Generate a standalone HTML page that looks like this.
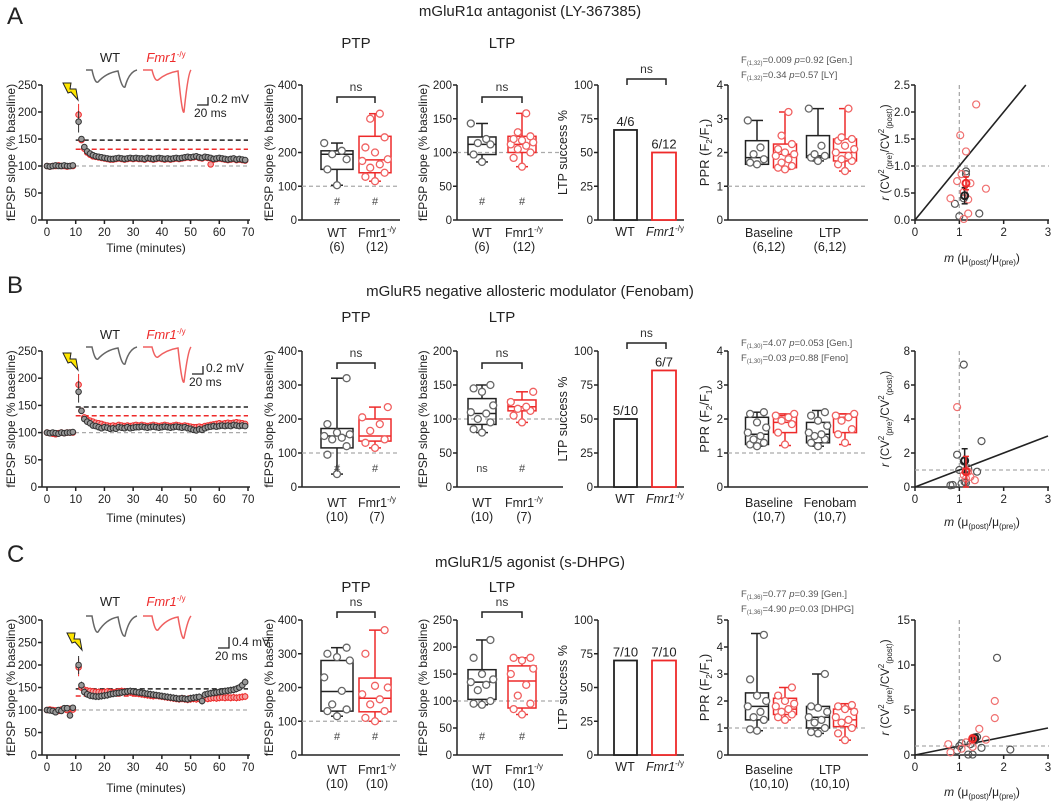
<!DOCTYPE html>
<html><head><meta charset="utf-8"><style>
html,body{margin:0;padding:0;background:#fff;}
svg{display:block;font-family:"Liberation Sans",sans-serif;}
</style></head><body>
<svg id="fig" width="1059" height="802" viewBox="0 0 1059 802" xmlns="http://www.w3.org/2000/svg"></svg>
<script>
// ===== DATA =====
const rowTitles=["mGluR1α antagonist (LY-367385)","mGluR5 negative allosteric modulator (Fenobam)","mGluR1/5 agonist (s-DHPG)"];
const tcMax=[250,250,300];
const tcWT_A=[100,99,100,101,100,100,101,100,100,101,null,182,150,135,127,123,120,118,117,116,115,114,113,113,114,115,114,113,114,115,114,115,114,114,113,115,114,113,114,115,114,113,114,113,114,115,114,115,116,117,116,117,118,116,115,117,116,115,113,114,115,114,113,112,113,114,112,113,112,111];
const tcKO_A=[100,99,100,100,101,100,100,99,100,100,null,195,148,132,125,121,118,117,116,115,114,113,112,112,113,114,113,112,113,114,113,114,113,113,112,114,113,112,113,114,113,112,113,112,113,114,113,114,115,116,115,116,117,115,114,116,115,103,112,113,114,113,112,111,112,113,111,112,111,110];
const tcWT_B=[100,99,100,99,98,100,99,100,100,101,null,175,140,125,120,117,113,112,110,108,110,109,107,108,107,110,109,108,110,108,109,110,110,111,110,109,110,111,110,109,110,111,110,109,110,111,110,109,110,108,107,105,104,106,105,108,110,111,112,111,112,113,112,113,112,114,113,112,113,112];
const tcKO_B=[100,99,98,97,99,100,99,100,100,100,null,188,140,128,124,122,120,118,117,116,114,113,112,113,112,114,113,112,113,112,113,114,113,114,113,112,113,114,113,112,113,114,113,112,113,114,113,112,113,112,111,110,110,111,110,112,113,114,115,116,117,116,117,118,117,118,119,118,117,116];
const tcWT_C=[100,99,98,95,100,98,104,104,88,105,null,200,155,140,135,132,131,130,130,131,132,133,135,136,137,138,139,140,141,142,141,140,139,138,137,136,135,134,133,132,131,130,129,128,127,126,125,126,125,124,126,127,128,129,120,134,136,137,138,139,140,141,142,143,144,145,147,150,155,162];
const tcKO_C=[100,101,100,99,98,101,102,100,103,101,null,195,150,145,143,142,141,140,140,139,140,141,140,139,140,141,142,141,140,139,138,137,136,135,134,133,132,131,132,131,130,129,128,127,126,125,124,125,124,123,124,125,124,125,124,126,125,126,127,126,127,128,127,128,127,128,127,128,129,130];
const tcWT=[tcWT_A,tcWT_B,tcWT_C];
const tcKO=[tcKO_A,tcKO_B,tcKO_C];
const thrWT=[148,147,147];
const thrKO=[131,131,131];
const ptpWTpts=[[103,150,180,195,205,228],[38,95,120,140,145,150,155,160,185,320],[115,130,135,150,190,230,280,290,300,318]];
const ptpWTstat=[[103,150,195,205,228],[38,115,150,172,320],[115,130,188,280,318]];
const ptpKOpts=[[115,128,140,155,165,175,180,200,215,245,300,315],[115,130,140,165,185,205,235],[100,110,130,150,165,180,200,205,300,370]];
const ptpKOstat=[[115,140,178,248,315],[115,135,150,200,235],[100,128,168,228,370]];
const ltpMax=[200,200,250];
const ltpWTpts=[[86,97,112,114,120,143],[80,85,95,100,108,110,120,140,145,150],[93,95,100,120,130,135,140,150,180,213]];
const ltpWTstat=[[86,97,112,123,143],[80,92,108,130,150],[93,103,135,158,213]];
const ltpKOpts=[[79,92,100,105,110,112,115,118,120,124,130,158],[95,105,112,115,118,125,140],[75,85,95,110,130,150,160,175,180,180]];
const ltpKOstat=[[79,100,112,124,158],[95,112,118,128,140],[75,87,137,165,180]];
const ltpWTmark=["#","ns","#"];
const nLabels=[["(6)","(12)"],["(10)","(7)"],["(10)","(10)"]];
const successWT=[66.7,50,70];
const successKO=[50,85.7,70];
const successWTlab=["4/6","5/10","7/10"];
const successKOlab=["6/12","6/7","7/10"];
const pprMax=[4,4,5];
const pprCat2=["LTP","Fenobam","LTP"];
const pprN=["(6,12)","(10,7)","(10,10)"];
const pprWT1pts=[[1.65,1.7,1.8,1.95,2.15,2.95],[1.2,1.25,1.3,1.4,1.5,1.6,1.75,1.9,2.15,2.2],[0.9,0.95,1.3,1.4,1.6,1.8,2.0,2.2,2.8,4.45]];
const pprWT1stat=[[1.65,1.65,1.85,2.35,2.95],[1.2,1.25,1.55,2.05,2.2],[0.9,1.3,1.8,2.3,4.5]];
const pprKO1pts=[[1.5,1.55,1.6,1.7,1.8,1.9,1.95,2.0,2.1,2.25,2.5,3.2],[1.25,1.6,1.85,1.95,2.05,2.1,2.15],[1.3,1.4,1.5,1.6,1.7,1.8,1.9,2.0,2.2,2.5]];
const pprKO1stat=[[1.5,1.55,1.95,2.25,3.2],[1.22,1.6,1.9,2.1,2.15],[1.3,1.5,1.7,2.1,2.5]];
const pprWT2pts=[[1.75,1.85,1.9,1.95,2.2,3.3],[1.2,1.3,1.4,1.5,1.55,1.6,1.8,1.95,2.1,2.2],[0.8,0.85,1.0,1.2,1.3,1.4,1.6,1.75,1.8,3.0]];
const pprWT2stat=[[1.75,1.85,1.9,2.5,3.3],[1.2,1.3,1.55,1.9,2.25],[0.8,1.0,1.4,1.8,3.0]];
const pprKO2pts=[[1.45,1.65,1.75,1.8,1.9,2.0,2.1,2.2,2.35,2.4,2.45,3.3],[1.3,1.55,1.7,1.95,2.05,2.1,2.15],[0.55,0.8,1.0,1.2,1.3,1.4,1.6,1.7,1.8,1.85]];
const pprKO2stat=[[1.45,1.75,2.0,2.4,3.3],[1.25,1.6,2.05,2.15,2.15],[0.55,1.05,1.3,1.7,1.9]];
const fStat1=["F<tspan font-size='6' dy='2'>(1,32)</tspan><tspan dy='-2'>=0.009 </tspan><tspan font-style='italic'>p</tspan>=0.92 [Gen.]","F<tspan font-size='6' dy='2'>(1,30)</tspan><tspan dy='-2'>=4.07 </tspan><tspan font-style='italic'>p</tspan>=0.053 [Gen.]","F<tspan font-size='6' dy='2'>(1,36)</tspan><tspan dy='-2'>=0.77 </tspan><tspan font-style='italic'>p</tspan>=0.39 [Gen.]"];
const fStat2=["F<tspan font-size='6' dy='2'>(1,32)</tspan><tspan dy='-2'>=0.34 </tspan><tspan font-style='italic'>p</tspan>=0.57 [LY]","F<tspan font-size='6' dy='2'>(1,30)</tspan><tspan dy='-2'>=0.03 </tspan><tspan font-style='italic'>p</tspan>=0.88 [Feno]","F<tspan font-size='6' dy='2'>(1,36)</tspan><tspan dy='-2'>=4.90 </tspan><tspan font-style='italic'>p</tspan>=0.03 [DHPG]"];
const scMax=[2.5,8,15];
const scTicks=[[0,0.5,1,1.5,2,2.5],[0,2,4,6,8],[0,5,10,15]];
const scTickLab=[["0.0","0.5","1.0","1.5","2.0","2.5"],["0","2","4","6","8"],["0","5","10","15"]];
const scWT=[[[0.9,0.3],[1.0,0.07],[1.1,0.4],[1.12,0.45],[1.15,0.85],[1.15,0.9],[1.45,0.12]],
 [[0.8,0.1],[0.85,0.12],[0.95,1.9],[1.0,1.0],[1.05,0.2],[1.1,1.5],[1.12,0.3],[1.2,1.1],[1.4,0.9],[1.5,2.7],[1.1,7.2],[1.15,0.25]],
 [[1.0,1.0],[1.05,1.3],[1.2,0.05],[1.25,1.2],[1.3,0.05],[1.4,2.0],[1.5,0.8],[2.15,0.6],[1.85,10.8],[1.35,1.6],[0.95,0.5]]];
const scKO=[[[0.8,0.4],[0.95,0.72],[1.02,1.57],[1.05,0.85],[1.1,0.52],[1.1,0.02],[1.15,1.27],[1.2,0.38],[1.2,0.12],[1.25,0.68],[1.38,2.14],[1.6,0.58]],
 [[0.95,4.7],[1.1,0.7],[1.15,0.5],[1.2,0.9],[1.25,0.6],[1.35,0.4],[1.15,1.0]],
 [[0.75,1.2],[0.8,0.3],[1.05,0.7],[1.15,1.4],[1.3,1.9],[1.35,1.9],[1.45,2.9],[1.6,1.7],[1.8,6.0],[1.8,4.1],[1.3,0.9]]];
const scMeanWT=[[1.12,0.45,0.15],[1.12,1.55,0.7],[1.35,1.9,0.3]];
const scMeanKO=[[1.15,0.68,0.12],[1.15,0.9,0.9],[1.3,1.8,0.3]];

// ===== LAYOUT =====
const NS='http://www.w3.org/2000/svg';
const svg=document.getElementById('fig');
const RED='#ee2a2a', BLK='#222', GRY='#aaa';
const TF=11.5;
function mk(tag,attrs,parent){const e=document.createElementNS(NS,tag);for(const k in attrs)e.setAttribute(k,attrs[k]);(parent||svg).appendChild(e);return e;}
function txt(g,x,y,html,size,anchor,fill){const t=mk('text',{x:x,y:y,'font-size':size,'text-anchor':anchor||'middle',fill:fill||BLK,'font-family':'Liberation Sans, sans-serif'},g);t.innerHTML=html;return t;}
function ln(g,x1,y1,x2,y2,c,w,dash){const l=mk('line',{x1:x1,y1:y1,x2:x2,y2:y2,stroke:c,'stroke-width':w||1.5},g);if(dash)l.setAttribute('stroke-dasharray',dash);return l;}
function yAxis(g,x,top,bot,max,ticks,labels){
  const a=ln(g,x,top,x,bot,BLK,1.5);
  
  
  ticks.forEach((v,i)=>{const y=bot-v/max*(bot-top);ln(g,x-4,y,x,y,BLK,1.5);
    const t=txt(g,x-5,y+4,labels[i],TF,'end',BLK);
    
    });
}
function ylab(g,x,y,html,size){const t=txt(g,0,0,html,size||12,'middle',BLK);t.setAttribute('transform','translate('+x+','+y+') rotate(-90)');return t;}
const fmr="<tspan font-style='italic'>Fmr1</tspan><tspan font-size='8' dy='-5'>-/y</tspan>";
const fmrN="Fmr1<tspan font-size='8' dy='-5'>-/y</tspan>";

function boxplot(g,cx,w,stat,pts,yf,color,name){
  const bg=mk('g',{},g);
  
  
  const [mn,q1,md,q3,mx]=stat;
  ln(bg,cx,yf(mx),cx,yf(q3),color,1.5);ln(bg,cx,yf(q1),cx,yf(mn),color,1.5);
  ln(bg,cx-6,yf(mx),cx+6,yf(mx),color,1.5);ln(bg,cx-6,yf(mn),cx+6,yf(mn),color,1.5);
  mk('rect',{x:cx-w/2,y:yf(q3),width:w,height:Math.max(0.5,yf(q1)-yf(q3)),fill:'none',stroke:color,'stroke-width':1.5},bg);
  ln(bg,cx-w/2,yf(md),cx+w/2,yf(md),color,1.5);
  const pc=color===RED?'#f06060':'#666';
  pts.forEach((v,i)=>{const off=[0,-0.3,0.3,-0.15,0.15,-0.4,0.4][i%7]*w;
    const c=mk('circle',{cx:cx+off,cy:yf(v),r:3.5,fill:'#fff',stroke:pc,'stroke-width':1.3},bg);
    
    });
}
function bracket(g,x1,x2,y,label){
  mk('path',{d:'M'+x1+','+(y+6)+'V'+y+'H'+x2+'V'+(y+6),fill:'none',stroke:BLK,'stroke-width':1.5},g);
  const t=txt(g,(x1+x2)/2,y-6,label,12,'middle','#333');
  
  
}

const tops=[85,351,620], bots=[220,487,755];
const titleY=[16,296,567], subY=[48,322,592];
const brY=[97,363,612], succBrY=[79,343,null];
const fY=[66,349,600];
const catY=[237,507,774];
const timeY=[252,522,792];
const scLabY=[262,526,796];
const letterY=[24,293,562];
const traceY=[70,347,616];
const wtLabY=[62,339,606];

for(let r=0;r<3;r++){
  const top=tops[r], bot=bots[r];
  const g=mk('g',{});
  
  
  const L=txt(g,7,letterY[r],'ABC'[r],24,'start',BLK);
  
  
  const T=txt(g,530,titleY[r],rowTitles[r],15,'middle',BLK);
  
  

  // --- time course ---
  const tg=mk('g',{},g);
  
  
  const mx=tcMax[r];
  const yT=v=>bot-v/mx*(bot-top);
  const xT=v=>47+v*(248-47)/70;
  const tk=[],tl=[];for(let v=0;v<=mx;v+=50){tk.push(v);tl.push(String(v));}
  yAxis(tg,42,top,bot,mx,tk,tl);
  ln(tg,42,bot,250,bot,BLK,1.5);
  for(let v=0;v<=70;v+=10){ln(tg,xT(v),bot,xT(v),bot+4,BLK,1.5);const t=txt(tg,xT(v),bot+16,String(v),TF,'middle');
    
    }
  ylab(tg,15,(top+bot)/2,'fEPSP slope (% baseline)',12);
  const xl=txt(tg,146,timeY[r],'Time (minutes)',12,'middle');
  
  
  ln(tg,xT(0),yT(100),xT(70),yT(100),GRY,1.3,'4,3');
  ln(tg,xT(10),yT(thrWT[r]),xT(70),yT(thrWT[r]),BLK,1.5,'5,3');
  ln(tg,xT(10),yT(thrKO[r]),xT(70),yT(thrKO[r]),RED,1.5,'5,3');
  [[tcKO[r],'#f5a0a0',RED,'ko-series'],[tcWT[r],'#999','#333','wt-series']].forEach(([arr,fill,st,nm])=>{
    const sg=mk('g',{},tg);
    
    
    arr.forEach((v,i)=>{if(v===null)return;
      const e=(i===11?20:(r===2&&i>10?8:4));
      ln(sg,xT(i),yT(v)-e/mx*135,xT(i),yT(v)+e/mx*135,st,1);
      const c=mk('circle',{cx:xT(i),cy:yT(v),r:2.8,fill:fill,stroke:st,'stroke-width':1},sg);
      
      });
  });
  const bx=r===2?67:63, by=r===0?83:(r===1?353:633);
  const bolt=mk('polygon',{points:[[bx,by],[bx+8,by],[bx+7,by+6],[bx+13,by+6],[bx+15,by+17],[bx+8,by+9],[bx+5,by+10]].map(p=>p.join(',')).join(' '),fill:'#ffe600',stroke:BLK,'stroke-width':1},tg);
  
  
  const ty=traceY[r];
  const wl=txt(tg,110,wtLabY[r],'WT',13,'middle',BLK);
  
  
  const kl=txt(tg,166,wtLabY[r],fmr,13,'middle',RED);
  
  
  const d1=r===2?[18,22]:[14,19];
  const k2=r===0?45:(r===1?38:25);
  const tw=mk('path',{d:'M86,'+ty+' H92 Q95,'+(ty+d1[0])+' 98,'+(ty+d1[0]-2)+' Q106,'+(ty+3)+' 118,'+(ty+1)+' Q122,'+(ty+d1[1])+' 125,'+(ty+d1[1]-2)+' Q129,'+(ty+2)+' 137,'+ty,fill:'none',stroke:'#666','stroke-width':1.5},tg);
  
  
  const tko=mk('path',{d:'M143,'+ty+' H152 Q155,'+(ty+d1[0]-2)+' 158,'+(ty+d1[0]-4)+' Q166,'+(ty+3)+' 178,'+(ty+1)+' Q182,'+(ty+k2)+' 184,'+(ty+k2-3)+' Q188,'+(ty+3)+' 191,'+ty,fill:'none',stroke:'#f06060','stroke-width':1.5},tg);
  
  
  const sx=r===2?229:(r===1?203:208), sy=r===2?648:(r===1?374:105), sh=r===2?11:8;
  mk('path',{d:'M'+(sx-11)+','+sy+'H'+sx+'V'+(sy-sh),fill:'none',stroke:BLK,'stroke-width':1.3},tg);
  txt(tg,sx+3,sy-2,r===2?'0.4 mV':'0.2 mV',12,'start');
  txt(tg,sx-14,sy+12,'20 ms',12,'start');

  // --- PTP ---
  const pg=mk('g',{},g);
  
  
  const yP=v=>bot-v/400*(bot-top);
  yAxis(pg,302,top,bot,400,[0,100,200,300,400],['0','100','200','300','400']);
  ln(pg,302,bot,400,bot,BLK,1.5);
  ln(pg,302,yP(100),400,yP(100),GRY,1.3,'4,3');
  ylab(pg,273,(top+bot)/2,'fEPSP slope (% baseline)',12);
  txt(pg,356,subY[r],'PTP',15,'middle');
  boxplot(pg,337,32,ptpWTstat[r],ptpWTpts[r],yP,BLK,'ptp-wt-box');
  boxplot(pg,375,32,ptpKOstat[r],ptpKOpts[r],yP,RED,'ptp-ko-box');
  bracket(pg,337,375,brY[r],'ns');
  txt(pg,337,bot-15,'#',11,'middle','#444');txt(pg,375,bot-15,'#',11,'middle','#444');
  txt(pg,337,catY[r],'WT',12.5,'middle');txt(pg,377,catY[r],fmrN,12.5,'middle');
  txt(pg,337,catY[r]+14,nLabels[r][0],12.5,'middle');txt(pg,377,catY[r]+14,nLabels[r][1],12.5,'middle');

  // --- LTP ---
  const lg=mk('g',{},g);
  
  
  const lm=ltpMax[r];
  const yL=v=>bot-v/lm*(bot-top);
  const lt=[],ll=[];for(let v=0;v<=lm;v+=50){lt.push(v);ll.push(String(v));}
  yAxis(lg,457,top,bot,lm,lt,ll);
  ln(lg,457,bot,563,bot,BLK,1.5);
  ln(lg,457,yL(100),563,yL(100),GRY,1.3,'4,3');
  ylab(lg,427,(top+bot)/2,'fEPSP slope (% baseline)',12);
  txt(lg,502,subY[r],'LTP',15,'middle');
  boxplot(lg,482,28,ltpWTstat[r],ltpWTpts[r],yL,BLK,'ltp-wt-box');
  boxplot(lg,522,28,ltpKOstat[r],ltpKOpts[r],yL,RED,'ltp-ko-box');
  bracket(lg,482,522,brY[r],'ns');
  txt(lg,482,bot-15,ltpWTmark[r],11,'middle','#444');txt(lg,522,bot-15,'#',11,'middle','#444');
  txt(lg,482,catY[r],'WT',12.5,'middle');txt(lg,524,catY[r],fmrN,12.5,'middle');
  txt(lg,482,catY[r]+14,nLabels[r][0],12.5,'middle');txt(lg,524,catY[r]+14,nLabels[r][1],12.5,'middle');

  // --- LTP success ---
  const sg=mk('g',{},g);
  
  
  const yS=v=>bot-v/100*(bot-top);
  yAxis(sg,598,top,bot,100,[0,25,50,75,100],['0','25','50','75','100']);
  ln(sg,598,bot,684,bot,BLK,1.5);
  ylab(sg,567,(top+bot)/2,'LTP success %',12.5);
  const b1=mk('rect',{x:614,y:yS(successWT[r]),width:23,height:bot-yS(successWT[r]),fill:'#fff',stroke:BLK,'stroke-width':1.8},sg);
  
  
  const b2=mk('rect',{x:652,y:yS(successKO[r]),width:24,height:bot-yS(successKO[r]),fill:'#fff',stroke:RED,'stroke-width':1.8},sg);
  
  
  txt(sg,625.5,yS(successWT[r])-4,successWTlab[r],13,'middle');
  txt(sg,664,yS(successKO[r])-4,successKOlab[r],13,'middle');
  if(succBrY[r])bracket(sg,627,666,succBrY[r],'ns');
  txt(sg,625,bot+16,'WT',12.5,'middle');txt(sg,665,bot+16,fmr,12.5,'middle');

  // --- PPR ---
  const rg=mk('g',{},g);
  
  
  const pm=pprMax[r];
  const yR=v=>bot-v/pm*(bot-top);
  const rt=[],rl=[];for(let v=0;v<=pm;v++){rt.push(v);rl.push(String(v));}
  yAxis(rg,728,top,bot,pm,rt,rl);
  ln(rg,728,bot,868,bot,BLK,1.5);
  ln(rg,728,yR(1),868,yR(1),GRY,1.3,'4,3');
  ylab(rg,709,(top+bot)/2,'PPR (F<tspan font-size="8" dy="3">2</tspan><tspan dy="-3">/F</tspan><tspan font-size="8" dy="3">1</tspan><tspan dy="-3">)</tspan>',13);
  boxplot(rg,757,23,pprWT1stat[r],pprWT1pts[r],yR,BLK,'ppr-baseline-wt-box');
  boxplot(rg,785,23,pprKO1stat[r],pprKO1pts[r],yR,RED,'ppr-baseline-ko-box');
  boxplot(rg,818,23,pprWT2stat[r],pprWT2pts[r],yR,BLK,'ppr-cond-wt-box');
  boxplot(rg,845,23,pprKO2stat[r],pprKO2pts[r],yR,RED,'ppr-cond-ko-box');
  txt(rg,769,catY[r],'Baseline',12.5,'middle');txt(rg,830,catY[r],pprCat2[r],12.5,'middle');
  txt(rg,769,catY[r]+14,pprN[r],12.5,'middle');txt(rg,830,catY[r]+14,pprN[r],12.5,'middle');
  txt(rg,741,fY[r]-3,fStat1[r],9.5,'start','#555');
  txt(rg,741,fY[r]+12,fStat2[r],9.5,'start','#555');

  // --- scatter ---
  const cg=mk('g',{},g);
  
  
  const cm=scMax[r];
  const xC=v=>915+v/3*(1048-915);
  const yC=v=>bot-v/cm*(bot-top);
  yAxis(cg,915,top,bot,cm,scTicks[r],scTickLab[r]);
  ln(cg,915,bot,1049,bot,BLK,1.5);
  [0,1,2,3].forEach(v=>{ln(cg,xC(v),bot,xC(v),bot+4,BLK,1.5);txt(cg,xC(v),bot+16,String(v),TF,'middle');});
  ln(cg,xC(1),top,xC(1),bot,GRY,1.3,'4,3');
  ln(cg,915,yC(1),1049,yC(1),GRY,1.3,'4,3');
  const xe=Math.min(3,cm);
  const idl=ln(cg,xC(0),yC(0),xC(xe),yC(xe),BLK,1.6);
  
  
  ylab(cg,889,(top+bot)/2,'<tspan font-style="italic">r</tspan> (CV<tspan font-size="8" dy="-5">2</tspan><tspan font-size="8" dy="8">(pre)</tspan><tspan dy="-3">/CV</tspan><tspan font-size="8" dy="-5">2</tspan><tspan font-size="8" dy="8">(post)</tspan><tspan dy="-3">)</tspan>',11.5);
  txt(cg,982,scLabY[r],'<tspan font-style="italic">m</tspan> (μ<tspan font-size="8" dy="3">(post)</tspan><tspan dy="-3">/μ</tspan><tspan font-size="8" dy="3">(pre)</tspan><tspan dy="-3">)</tspan>',12,'middle');
  [[scWT[r],'#555','scatter-wt-point'],[scKO[r],'#f07070','scatter-ko-point']].forEach(([arr,col,nm])=>{
    arr.forEach(p=>{const c=mk('circle',{cx:xC(p[0]),cy:yC(p[1]),r:3.5,fill:'none',stroke:col,'stroke-width':1.2},cg);
      
      });
  });
  [[scMeanWT[r],BLK],[scMeanKO[r],RED]].forEach(([m,col])=>{
    ln(cg,xC(m[0]),yC(m[1]-m[2]),xC(m[0]),yC(m[1]+m[2]),col,1.5);
    ln(cg,xC(m[0])-3,yC(m[1]+m[2]),xC(m[0])+3,yC(m[1]+m[2]),col,1.5);
    ln(cg,xC(m[0])-3,yC(m[1]-m[2]),xC(m[0])+3,yC(m[1]-m[2]),col,1.5);
    const c=mk('circle',{cx:xC(m[0]),cy:yC(m[1]),r:3.5,fill:'none',stroke:col,'stroke-width':2},cg);
    
    
  });
}
</script>
</body></html>
